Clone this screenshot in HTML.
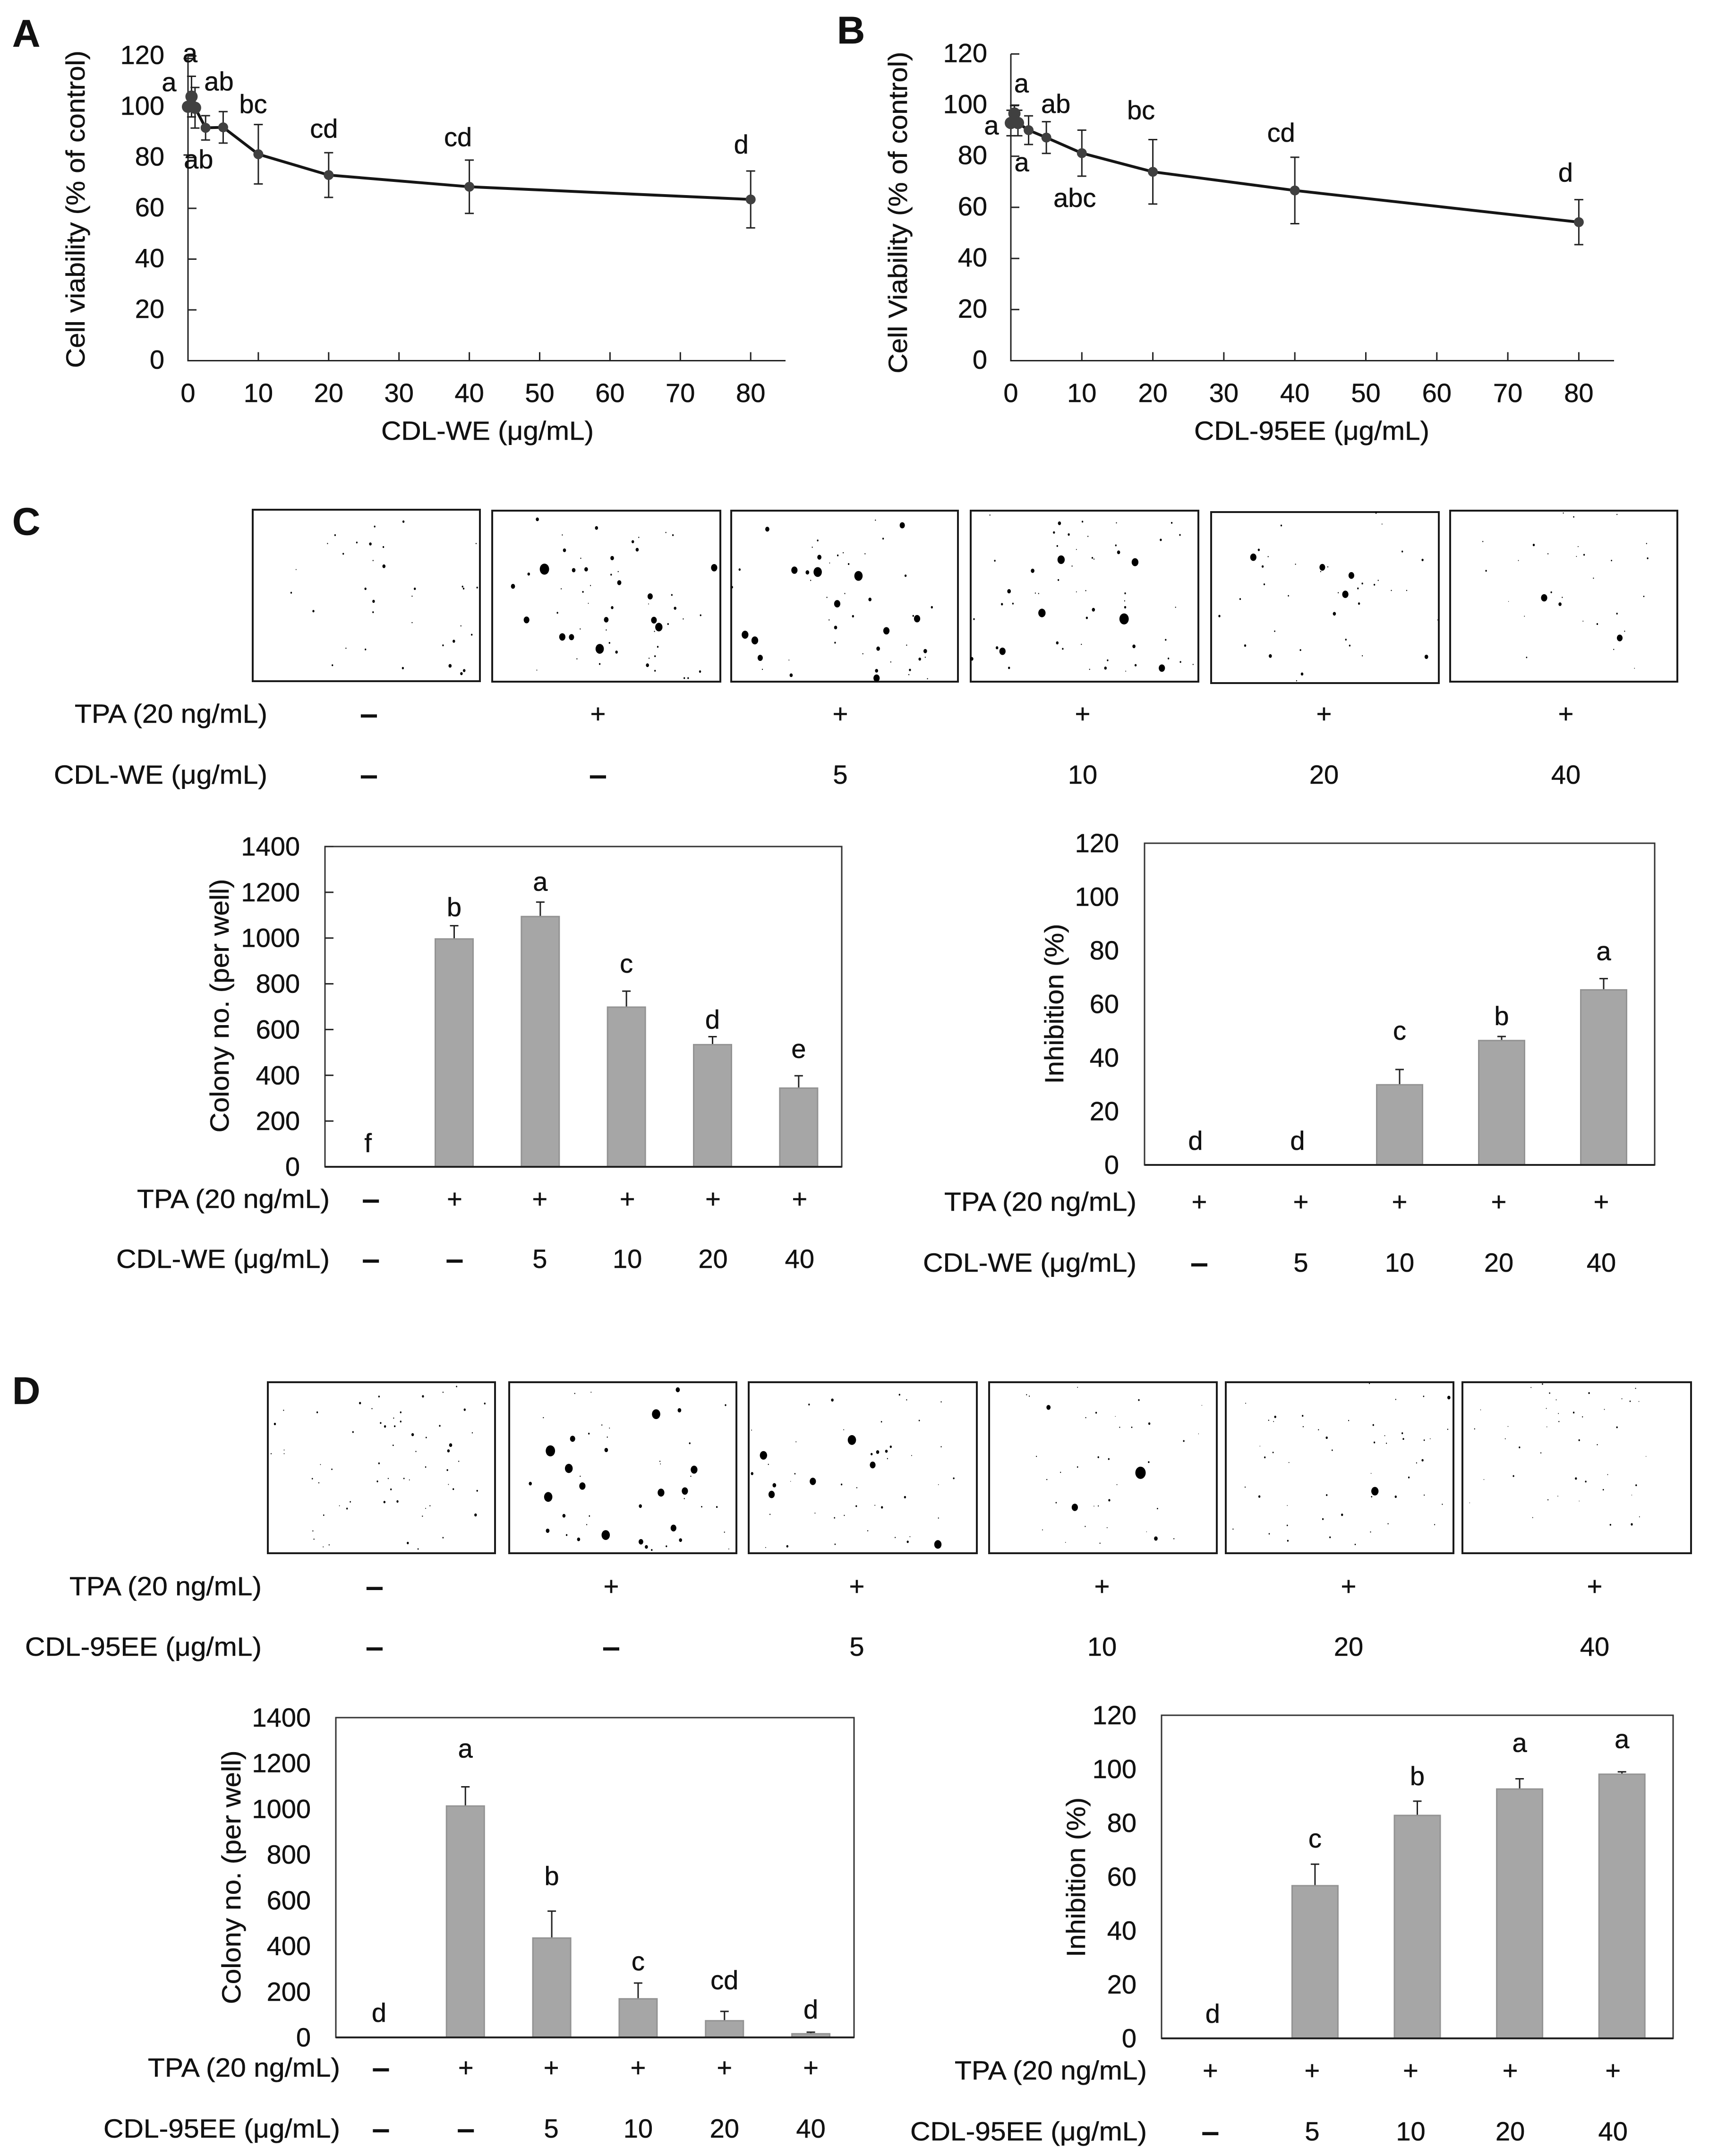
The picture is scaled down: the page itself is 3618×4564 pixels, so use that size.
<!DOCTYPE html>
<html lang="en">
<head>
<meta charset="utf-8">
<title>Cell viability and colony formation</title>
<style>
html,body{margin:0;padding:0;background:#fff;width:3618px;height:4564px;overflow:hidden}
svg{display:block}
text{font-family:"Liberation Sans",Arial,sans-serif;fill:#111;stroke:#111;stroke-width:.5px}
</style>
</head>
<body>
<svg id="fig" xmlns="http://www.w3.org/2000/svg" width="3618" height="4564" viewBox="0 0 3618 4564">
<rect x="0" y="0" width="3618" height="4564" fill="#fff"/>
<g font-weight="700" font-size="82">
<text x="26" y="99">A</text>
<text x="1772" y="92">B</text>
<text x="26" y="1132">C</text>
<text x="26" y="2972">D</text>
</g>
<g fill="#fff" stroke="#1a1a1a" stroke-width="4">
<rect x="535" y="1079" width="481" height="363"/>
<rect x="1042" y="1081" width="483" height="362"/>
<rect x="1548" y="1081" width="480" height="362"/>
<rect x="2055" y="1081" width="482" height="362"/>
<rect x="2564" y="1084" width="482" height="362"/>
<rect x="3070" y="1081" width="481" height="362"/>
</g>
<g fill="#fff" stroke="#1a1a1a" stroke-width="4">
<rect x="567" y="2926" width="481" height="362"/>
<rect x="1078" y="2926" width="481" height="362"/>
<rect x="1585" y="2926" width="483" height="362"/>
<rect x="2094" y="2926" width="482" height="362"/>
<rect x="2595" y="2926" width="482" height="362"/>
<rect x="3096" y="2926" width="484" height="362"/>
</g>
</svg>
<script>
/* ---------- Panel A data ---------- */
const aDoses=[0,0.5,1,2.5,5,10,20,40,80];
const aMeans=[100,104,99.6,91.7,91.9,81.3,73.1,68.5,63.5];
const aSD=[19,8,8,4.8,6.2,11.7,8.8,10.5,11.2];
const aLetters=['a','a','','ab','ab','bc','cd','cd','d'];
/* ---------- Panel B data ---------- */
const bDoses=[0,0.5,1,2.5,5,10,20,40,80];
const bMeans=[93,96.7,93,90.2,87.3,81.2,73.9,66.6,54.2];
const bSD=[5,3.1,5,5.6,6.2,9,12.6,13,8.8];
const bLetters=['a','a','a','','ab','abc','bc','cd','d'];
const viabilityXTicks=[0,10,20,30,40,50,60,70,80];
const viabilityYTicks=[0,20,40,60,80,100,120];
/* ---------- Panel C bars ---------- */
const cColonyTpa=['–','+','+','+','+','+'];
const cColonyDose=['–','–','5','10','20','40'];
const cColonyValues=[0,996,1094,698,534,344];
const cColonyErr=[0,58,63,70,35,54];
const cColonyLetters=['f','b','a','c','d','e'];
const cInhibTpa=['+','+','+','+','+'];
const cInhibDose=['–','5','10','20','40'];
const cInhibValues=[0,0,29.9,46.4,65.3];
const cInhibErr=[0,0,5.7,1.5,4.2];
const cInhibLetters=['d','d','c','b','a'];
/* ---------- Panel D bars ---------- */
const dColonyTpa=['–','+','+','+','+','+'];
const dColonyDose=['–','–','5','10','20','40'];
const dColonyValues=[0,1013,435,169,73,16];
const dColonyErr=[0,84,118,69,41,7];
const dColonyLetters=['d','a','b','c','cd','d'];
const dInhibTpa=['+','+','+','+','+'];
const dInhibDose=['–','5','10','20','40'];
const dInhibValues=[0,56.7,82.8,92.6,98.1];
const dInhibErr=[0,8,5.3,3.8,0.9];
const dInhibLetters=['d','c','b','a','a'];
const colonyYTicks=[0,200,400,600,800,1000,1200,1400];
const inhibYTicks=[0,20,40,60,80,100,120];
/* ---------- Photo treatment rows ---------- */
const photoTpa=['–','+','+','+','+','+'];
const photoDose=['–','–','5','10','20','40'];
/* ---------- Colony specks in the plate photos (crop x, crop y, radius) ---------- */
const speckC1=[[744,148,2],[691,172,1.5],[618,214,1.5],[604,255,1],[658,250,1.5],[683,257,2.5],[707,272,1.5],[633,305,1.5],[688,338,1],[708,366,3],[546,382,.8],[853,465,1.5],[855,475,1.5],[765,476,2],[674,476,2],[537,495,1.5],[760,512,1],[689,537,2.5],[578,585,2],[688,590,1.5],[760,641,1],[850,657,1],[870,700,1.5],[837,732,2.5],[817,752,1.5],[638,766,1],[674,772,1.5],[613,849,1.5],[743,863,2],[830,852,3],[856,875,2.5],[851,890,2.5],[880,470,1.5],[878,255,1],
[991,137,3],[1100,179,3],[1037,213,1],[1178,225,1],[1228,201,1],[1241,214,1.5],[1167,246,2.5],[1041,288,3],[1175,285,3],[1129,326,3.5],[1071,327,1],[1004,380,9],[1058,385,3.5],[1081,381,3.5],[1317,373,6],[1140,392,1],[975,404,2.5],[1127,407,1.5],[1142,446,4],[946,464,4],[1089,460,1],[1035,476,1],[1075,491,1.5],[1199,513,5],[1239,506,1.5],[1085,547,.8],[1196,550,.8],[1129,568,2.5],[1245,571,2.5],[1028,593,1.5],[1292,605,1.5],[1260,623,1],[971,628,5.5],[1118,627,4.5],[1206,629,5.5],[1232,648,1.5],[1215,663,7],[1070,672,1],[1118,677,1],[1207,684,1],[1037,711,6],[1054,712,5],[1124,740,1.5],[1213,759,1.5],[1106,769,8],[1137,785,2.5],[1208,805,1.5],[1197,815,1],[1064,818,1],[1106,843,1.5],[1194,849,3],[1208,876,1.5],[1291,880,2],[990,873,.8],[1262,912,1.5],[1269,912,1.5],
[1415,185,4],[1508,240,1.5],[1498,273,1],[1511,322,4],[1545,313,1.5],[1555,300,1],[1565,355,1.5],[1530,350,.8],[1364,382,2],[1465,385,6],[1489,396,3.5],[1508,394,8],[1495,435,1],[1350,468,2],[1558,499,1],[1525,518,1],[1544,549,6],[1529,628,1],[1541,665,3],[1374,700,6.5],[1392,728,6.5],[1540,739,1.5],[1402,813,5],[1455,824,.8],[1406,869,1],[1459,898,3]];
const speckC2=[[46,141,1],[95,166,5],[60,231,1.5],[27,305,1],[15,413,8],[101,412,2],[36,528,3],[149,566,2],[5,610,2],[122,622,6],[115,608,1.5],[66,681,6],[51,768,3.5],[103,751,1],[137,780,3.5],[23,793,1],[127,819,2.5],[137,810,1],[74,833,1],[109,872,2],[48,876,3],[107,895,1],[48,912,6],[141,915,1],
[255,116,1],[382,156,3],[424,148,1.5],[486,154,1],[587,154,1.5],[372,201,2],[399,211,2],[434,220,1],[602,213,1.5],[567,237,2],[378,267,1.5],[485,264,1.5],[413,284,.8],[490,298,3],[385,334,7],[442,325,1.5],[445,331,1],[520,346,6.5],[264,339,1.5],[405,365,1],[333,388,3.5],[380,433,1.5],[290,488,3.5],[338,497,1],[344,499,1],[413,491,.8],[430,485,1],[502,498,1.5],[501,535,1],[277,551,2],[297,548,1.5],[502,566,2],[594,566,1],[444,578,3],[350,594,7],[432,618,2],[500,623,9],[226,624,1.5],[576,725,1.5],[378,740,2.5],[422,747,1],[518,757,3],[388,769,1.5],[268,764,2.5],[278,781,6],[222,818,3],[470,825,1.5],[581,816,1.5],[603,833,1.5],[626,845,1],[521,849,2],[290,862,2],[437,869,1],[466,863,2.5],[569,863,6],[503,878,.8],
[787,167,1.5],[971,160,.8],[960,105,1.5],[1008,294,1.5],[746,286,2],[736,322,6],[763,319,1],[1045,335,2],[813,356,1],[753,367,2],[862,371,5.5],[872,369,1],[859,392,1],[915,411,5.5],[964,435,1],[935,450,1.5],[756,454,1.5],[957,456,1.5],[927,474,1.5],[988,484,1],[1016,484,1],[904,503,6],[891,495,1],[800,510,1.2],[712,526,1.5],[929,548,2],[884,598,3],[674,609,2],[1073,628,1],[775,683,1.2],[905,724,1.5],[721,753,2],[912,753,1.5],[822,775,1.5],[767,804,3],[935,803,1],[1052,808,3.5],[825,892,2.5],[815,925,1],
[1302,106,1],[1321,125,1.2],[1400,113,1],[1155,245,1],[1248,262,2],[1329,270,.8],[1454,255,1],[1274,305,1],[1340,310,1.5],[1326,318,.8],[1456,327,1.5],[1220,338,.8],[1390,338,1.2],[1161,388,1.5],[1357,424,1],[1280,493,1.5],[1267,520,6],[1300,518,1],[1449,513,1.2],[1202,538,.6],[1296,551,3],[1400,597,1.5],[1231,610,.8],[1338,634,.8],[1364,648,1.5],[1414,683,1],[1405,716,5.5],[1394,772,1],[1235,811,1.2],[1432,864,.7]];
const speckD1=[[842,127,1.2],[817,155,1],[699,176,1.5],[780,175,2],[664,208,2],[894,210,1.5],[686,235,1],[857,240,2],[523,243,1],[739,253,1.5],[585,253,1.5],[726,281,1],[739,298,1.5],[702,305,1.5],[507,310,2],[710,322,2],[728,321,1.5],[811,319,1.5],[651,349,1.5],[871,353,1],[761,362,2.5],[786,376,1.2],[725,414,1.2],[831,413,3],[827,441,2.5],[767,444,1],[524,437,.8],[500,455,1],[524,455,.8],[846,492,1],[699,502,1.5],[785,520,1.2],[591,508,.8],[612,531,1.2],[825,535,1.5],[576,577,1.2],[716,576,1],[745,576,1.2],[755,583,.8],[696,590,1.5],[588,597,1],[721,629,1.5],[836,628,1.5],[880,636,1.5],[827,605,.8],[709,691,2],[733,688,2],[646,690,1.2],[626,709,.8],[640,723,1.5],[793,709,1],[785,722,.8],[597,755,1.2],[779,760,1],[877,754,2.5],[577,832,1],[817,865,1.2],[579,872,1],[752,891,2],[607,900,1],[771,920,1.2],[596,910,.8],
[1250,143,4],[1060,161,1],[1090,155,.8],[1338,218,1.5],[1253,243,3.5],[1210,262,8],[1002,279,1],[1110,315,1],[1124,330,.8],[1086,357,1.5],[1056,382,5],[1120,374,1],[1272,404,1.5],[1015,441,9],[1118,437,3.5],[1217,492,1],[1218,505,.8],[1049,527,7.5],[1280,533,6.5],[1070,565,1],[1274,565,1],[978,601,3],[1074,613,6],[1263,637,6],[1219,645,6.5],[1011,666,8],[1262,674,1],[1181,711,3],[1294,714,1.2],[1322,715,1.5],[1040,758,3],[1087,759,1.2],[1082,801,1],[1010,831,3.5],[1045,852,1.5],[1117,852,8],[1242,818,5.5],[1067,873,3],[1336,838,1],[1182,885,4.5],[1255,877,3],[1192,910,3],[1229,907,1.5],[1202,925,1.5],[1344,920,.8],
[1535,193,2.5],[1492,215,1.5],[1386,340,.8],[1556,338,.8],[1468,397,.8],[1408,463,7],[1417,507,1],[1387,552,2.5],[1466,553,1.2],[1499,590,6],[1552,605,1.5],[1428,609,3.5],[1423,654,6],[1458,590,.6],[1420,751,1],[1503,745,.8],[1557,756,1],[1539,768,1.2],[1452,907,2],[1540,897,1.2],[1412,913,.8]];
const speckD2=[[90,167,1.5],[103,192,1],[166,202,1],[57,299,1.2],[126,293,1.2],[3,388,8],[74,421,2],[166,421,1],[50,447,3],[66,443,2.5],[39,457,2],[112,464,.8],[68,479,1],[41,510,5.5],[189,575,1.5],[161,606,.7],[12,621,1],[100,667,2],[11,711,1.5],[45,707,.8],[58,717,2],[161,769,1],[32,831,1],[82,864,1],[109,860,.8],[105,885,2],[160,898,7],
[415,131,.8],[322,167,1],[327,174,1],[527,193,1.5],[362,229,4],[449,255,1.5],[642,219,.6],[430,279,1],[484,273,.6],[546,308,2],[492,326,1],[514,326,1.2],[636,358,.6],[609,393,1.5],[340,468,1],[453,472,1.5],[472,481,1.5],[545,496,1.5],[415,520,1.2],[530,548,10],[384,546,1],[359,581,1],[487,606,.8],[473,682,2],[376,694,1.2],[410,717,6],[453,710,1],[445,711,.7],[561,723,1.2],[429,810,1],[469,816,.8],[351,827,.8],[541,836,.6],[558,869,3.5],[591,870,1],[393,888,.7],[456,892,1],
[948,112,1],[1047,175,1.2],[1093,181,3],[996,190,1],[722,209,.8],[776,275,2],[826,270,1.5],[764,292,1],[773,298,.8],[910,293,1],[955,315,1.5],[827,323,1],[855,338,1],[1091,336,1],[1008,355,1.5],[976,367,.8],[870,377,2],[1010,383,1.5],[1059,382,.7],[1048,389,1.2],[957,400,1.5],[979,404,1],[748,418,.6],[880,438,1.2],[772,449,1.2],[757,473,1.5],[801,498,.8],[1045,487,2],[1034,500,1],[951,551,.7],[1020,571,1.5],[721,618,1],[958,638,7],[870,657,1.5],[952,665,1.2],[996,665,2],[1048,657,1],[747,664,2],[1081,702,1],[798,708,.7],[898,753,2],[863,774,1.5],[982,797,1],[1067,801,1],[798,805,1.2],[950,837,1],[699,823,1],[765,846,1.2],[876,863,1.5],[799,880,1.5],[922,898,1.2],
[1264,115,1.2],[1243,132,.8],[1434,136,1],[1277,159,1.2],[1349,159,1.5],[1289,192,.8],[1409,187,.8],[1424,199,1.2],[1440,200,.7],[1271,234,.8],[1151,241,.7],[1377,239,.8],[1321,254,1.5],[1293,259,.8],[1337,275,1],[1294,298,1],[1140,334,1],[1201,322,.7],[1272,324,.7],[1400,326,1.5],[1196,382,.8],[1331,389,1.5],[1364,411,1],[1222,424,1.5],[1261,451,1],[1453,468,.6],[1383,557,.8],[1211,564,1.5],[1325,576,2],[1343,591,1.5],[1157,581,.7],[1435,609,1.5],[1375,631,1.2],[1292,662,.7],[1427,657,.6],[1274,680,1],[1331,686,.6],[1131,695,.6],[1441,763,.8],[1246,767,.8],[1388,802,1.5],[1427,800,2]];

const NS='http://www.w3.org/2000/svg';
const fig=document.getElementById('fig');
function make(tag,attrs,parent,text){
  const n=document.createElementNS(NS,tag);
  for(const k in attrs)n.setAttribute(k,attrs[k]);
  if(text!==undefined)n.textContent=text;
  (parent||fig).appendChild(n);
  return n;
}
function label(parent,x,y,str,size,anchor,len,name){
  const attrs={x:x,y:y,'font-size':size,'text-anchor':anchor||'middle'};
  if(len){attrs.textLength=len;attrs.lengthAdjust='spacingAndGlyphs';}
  const el=make('text',attrs,parent,str);
  if(str==='–'){el.style.strokeWidth='3px';}
  
  
  return el;
}
function yTitle(parent,x,mid,str,len){
  const el=make('text',{x:x,y:mid,'font-size':56,'text-anchor':'middle',transform:'rotate(-90 '+x+' '+mid+')',textLength:len,lengthAdjust:'spacingAndGlyphs'},parent,str);
  
  
}
function drawSpecks(list,ox,oy,fx,fy,name){
  const g=make('g',{fill:'#000'});
  
  
  list.forEach(function(s){
    const c=make('ellipse',{cx:(ox+s[0]*fx).toFixed(1),cy:(oy+s[1]*fy).toFixed(1),rx:(s[2]*1.1).toFixed(2),ry:(s[2]*1.3).toFixed(2)},g);
    
    
  });
}
drawSpecks(speckC1,0,1040,1800/1568,680/1568,'colonies-c-left');
drawSpecks(speckC2,1800,1040,1818/1568,680/1568,'colonies-c-right');
drawSpecks(speckD1,0,2880,1800/1568,680/1568,'colonies-d-left');
drawSpecks(speckD2,1800,2880,1818/1568,680/1568,'colonies-d-right');

function drawRows(group,tpa,dose,xs,tpaY,doseY,tpaRight,tpaLen,doseLabel,doseLen){
  label(group,tpaRight,tpaY,'TPA (20 ng/mL)',56,'end',tpaLen,'tpa-row-label');
  label(group,tpaRight,doseY,doseLabel,56,'end',doseLen,'dose-row-label');
  xs.forEach(function(x,i){
    label(group,x,tpaY,tpa[i],56,'middle',0,'tpa-row-value');
    label(group,x,doseY,dose[i],56,'middle',0,'dose-row-value');
  });
}
const photoRowC=make('g',{});


drawRows(photoRowC,photoTpa,photoDose,[781,1266,1779,2292,2803,3315],1530,1659,566,408,'CDL-WE (μg/mL)',452);
const photoRowD=make('g',{});


drawRows(photoRowD,photoTpa,photoDose,[793,1294,1814,2333,2855,3376],3377,3505,554,407,'CDL-95EE (μg/mL)',501);

function drawViability(c,doses,means,sd,letters){
  const g=make('g',{});
  
  
  const X=function(v){return c.x0+v*c.xUnit;};
  const Y=function(v){return c.y0-v*c.yUnit;};
  const axes=make('path',{d:'M'+c.x0+' '+Y(120)+'V'+c.y0+'H'+c.xEnd,fill:'none',stroke:'#222','stroke-width':3},g);
  
  
  viabilityYTicks.forEach(function(t){
    const m=make('line',{x1:c.x0,x2:c.x0+18,y1:Y(t),y2:Y(t),stroke:'#222','stroke-width':3},g);
    
    
    label(g,c.x0-50,Y(t)+17,String(t),56,'end',0,'y-tick-label');
  });
  viabilityXTicks.forEach(function(t){
    const m=make('line',{x1:X(t),x2:X(t),y1:c.y0,y2:c.y0-18,stroke:'#222','stroke-width':3},g);
    
    
    label(g,X(t),851,String(t),56,'middle',0,'x-tick-label');
  });
  yTitle(g,c.titleX,c.titleMid,c.yLabel,c.titleLen);
  label(g,c.xTitleX,931,c.xLabel,56,'middle',c.xTitleLen,'x-axis-title');
  doses.forEach(function(d,i){
    const x=X(d);
    const bar=make('path',{d:'M'+x+' '+Y(means[i]+sd[i])+'V'+Y(means[i]-sd[i])+'M'+(x-9.5)+' '+Y(means[i]+sd[i])+'h19M'+(x-9.5)+' '+Y(means[i]-sd[i])+'h19',fill:'none',stroke:'#222','stroke-width':3},g);
    
    
  });
  const line=make('polyline',{points:doses.map(function(d,i){return X(d)+','+Y(means[i]);}).join(' '),fill:'none',stroke:'#151515','stroke-width':6},g);
  
  
  doses.forEach(function(d,i){
    const p=make('circle',{cx:X(d),cy:Y(means[i]),r:d<2?13:10.5,fill:'#404040'},g);
    
    
    if(letters[i]){
      label(g,X(d)+c.letterOffsets[i][0],Y(means[i])+c.letterOffsets[i][1],letters[i],56,'middle',0,'significance-letter');
    }
  });
}
drawViability({name:'panel-a-viability-chart',x0:398,y0:763.5,xUnit:14.89,yUnit:5.375,xEnd:1663,titleX:179,titleMid:443,titleLen:672,yLabel:'Cell viability (% of control)',xLabel:'CDL-WE (μg/mL)',xTitleX:1032,xTitleLen:450,
  letterOffsets:[[-40,-33],[-3,-73],[0,0],[-15,86],[-9,-78],[-11,-87],[-10,-79],[-24,-86],[-20,-97]]},aDoses,aMeans,aSD,aLetters);
drawViability({name:'panel-b-viability-chart',x0:2140,y0:763.5,xUnit:15.03,yUnit:5.41,xEnd:3417,titleX:1920,titleMid:450,titleLen:681,yLabel:'Cell Viability (% of control)',xLabel:'CDL-95EE (μg/mL)',xTitleX:2777,xTitleLen:498,
  letterOffsets:[[-41,24],[15,-45],[8,102],[0,0],[20,-52],[-15,114],[-25,-111],[-29,-103],[-28,-86]]},bDoses,bMeans,bSD,bLetters);

function drawBars(c,values,errs,letters,tpa,dose,yTicks){
  const g=make('g',{});
  
  
  const band=(c.right-c.left)/values.length;
  const X=function(i){return c.left+(i+0.5)*band;};
  const Y=function(v){return c.bottom-v/c.max*(c.bottom-c.top);};
  const bw=c.barWidth;
  values.forEach(function(v,i){
    if(v<=0)return;
    const err=make('path',{d:'M'+X(i)+' '+Y(v)+'V'+Y(v+errs[i])+'M'+(X(i)-9)+' '+Y(v+errs[i])+'h18',fill:'none',stroke:'#222','stroke-width':3},g);
    
    
    const b=make('rect',{x:X(i)-bw/2,y:Y(v),width:bw,height:Y(0)-Y(v),fill:'#a6a6a6',stroke:'#939393','stroke-width':3},g);
    
    
  });
  const frame=make('rect',{x:c.left,y:c.top,width:c.right-c.left,height:c.bottom-c.top,fill:'none',stroke:'#333','stroke-width':3},g);
  
  
  const base=make('line',{x1:c.left,x2:c.right,y1:c.bottom,y2:c.bottom,stroke:'#222','stroke-width':4},g);
  
  
  yTicks.forEach(function(t){
    if(c.tickLen){
      const m=make('line',{x1:c.left,x2:c.left+c.tickLen,y1:Y(t),y2:Y(t),stroke:'#222','stroke-width':3},g);
      
      
    }
    label(g,c.labelRight,Y(t)+19,String(t),56,'end',0,'y-tick-label');
  });
  yTitle(g,c.titleX,c.titleMid,c.yLabel,c.titleLen);
  values.forEach(function(v,i){
    label(g,X(i),Y(v+errs[i])+c.letterGaps[i],letters[i],56,'middle',0,'significance-letter');
  });
  drawRows(g,tpa,dose,values.map(function(v,i){return X(i)+c.rowNudge[i];}),c.tpaY,c.doseY,c.rowRight,c.tpaLen,c.doseLabel,c.doseLen);
}
drawBars({name:'panel-c-colony-chart',left:688,right:1782,top:1792,bottom:2470,max:1400,barWidth:80,tickLen:18,labelRight:635,titleX:484,titleMid:2129,titleLen:537,yLabel:'Colony no. (per well)',
  letterGaps:[-31,-20,-24,-39,-17,-38],rowNudge:[6,1,-1,2,1,2],tpaY:2557,doseY:2684,rowRight:698,tpaLen:408,doseLabel:'CDL-WE (μg/mL)',doseLen:452},
  cColonyValues,cColonyErr,cColonyLetters,cColonyTpa,cColonyDose,colonyYTicks);
drawBars({name:'panel-c-inhibition-chart',left:2423,right:3503,top:1785,bottom:2466,max:120,barWidth:97,tickLen:0,labelRight:2369,titleX:2251,titleMid:2125,titleLen:339,yLabel:'Inhibition (%)',
  letterGaps:[-32,-32,-63,-24,-39],rowNudge:[8,7,0,-6,-5],tpaY:2563,doseY:2692,rowRight:2406,tpaLen:407,doseLabel:'CDL-WE (μg/mL)',doseLen:452},
  cInhibValues,cInhibErr,cInhibLetters,cInhibTpa,cInhibDose,inhibYTicks);
drawBars({name:'panel-d-colony-chart',left:711,right:1808,top:3636,bottom:4313,max:1400,barWidth:80,tickLen:0,labelRight:658,titleX:509,titleMid:3974,titleLen:537,yLabel:'Colony no. (per well)',
  letterGaps:[-33,-62,-55,-27,-47,-29],rowNudge:[4,1,-1,0,0,0],tpaY:4396,doseY:4525,rowRight:720,tpaLen:407,doseLabel:'CDL-95EE (μg/mL)',doseLen:501},
  dColonyValues,dColonyErr,dColonyLetters,dColonyTpa,dColonyDose,colonyYTicks);
drawBars({name:'panel-d-inhibition-chart',left:2459,right:3542,top:3631,bottom:4315,max:120,barWidth:97,tickLen:0,labelRight:2406,titleX:2297,titleMid:3974,titleLen:338,yLabel:'Inhibition (%)',
  letterGaps:[-33,-35,-34,-57,-50],rowNudge:[-5,-6,-14,-20,-19],tpaY:4402,doseY:4531,rowRight:2428,tpaLen:407,doseLabel:'CDL-95EE (μg/mL)',doseLen:501},
  dInhibValues,dInhibErr,dInhibLetters,dInhibTpa,dInhibDose,inhibYTicks);
</script>
</body>
</html>
